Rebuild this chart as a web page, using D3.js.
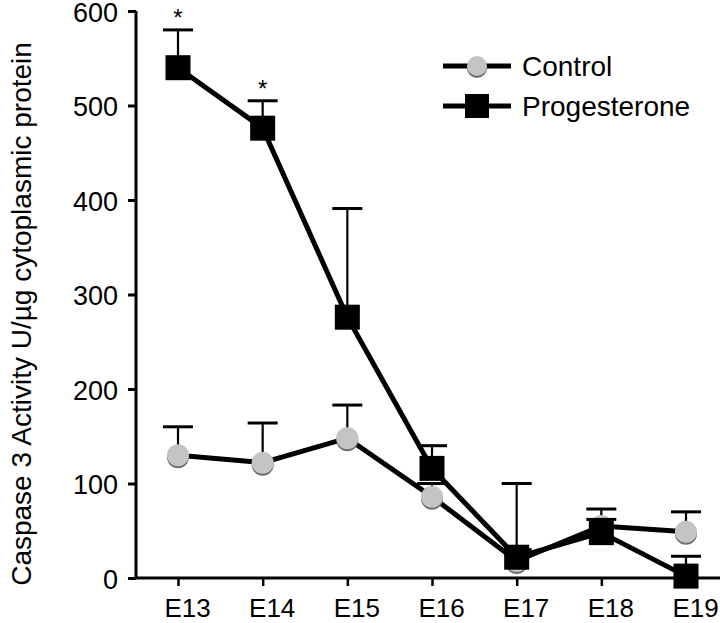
<!DOCTYPE html>
<html><head><meta charset="utf-8">
<script src="https://cdn.jsdelivr.net/npm/d3@7"></script>
<style>body{margin:0;background:#fff}svg{display:block}text{font-family:"Liberation Sans",Arial,sans-serif}</style>
</head><body><svg id="c" width="720" height="623"></svg>
<script>
const categories = ["E13","E14","E15","E16","E17","E18","E19"];
const controlMean = [130,122,148,86,18,55,49];
const controlErr  = [160,164,183,100,30,73,70];
const progMean    = [540,476,276,116,22,48,2];
const progErr     = [580,505,391,140,100,62,23];
const significant = [true,true,false,false,false,false,false];
const yTicks = [0,100,200,300,400,500,600];

const svg = d3.select("#c");
const x = d3.scalePoint().domain(categories).range([178,686]);
const y = d3.scaleLinear().domain([0,600]).range([578,11]);

// axes
const yAx = svg.append("g").attr("transform","translate(136,0)")
  .call(d3.axisLeft(y).tickValues(yTicks).tickSize(8).tickPadding(10).tickSizeOuter(0));
yAx.select(".domain").attr("stroke","#000").attr("stroke-width",3).attr("d","M0,11V578");
yAx.selectAll(".tick line").attr("stroke-width",3);
yAx.selectAll(".tick text").attr("font-size",27).attr("fill","#000").attr("dy","0.38em");

const xAx = svg.append("g").attr("transform","translate(0,578)")
  .call(d3.axisBottom(x).tickSize(8).tickPadding(13).tickSizeOuter(0));
xAx.select(".domain").attr("stroke","#000").attr("stroke-width",3).attr("d","M136,0H720");
xAx.selectAll(".tick line").attr("stroke-width",2.5);
xAx.selectAll(".tick text").attr("font-size",26).attr("fill","#000").attr("dx",9);

svg.append("text").attr("transform","translate(31,314) rotate(-90)")
  .attr("text-anchor","middle").attr("font-size",28)
  .text("Caspase 3 Activity U/\u00b5g cytoplasmic protein");

const line = d3.line().x((d,i)=>x(categories[i])).y(d=>y(d));

function errBars(means, errs){
  const g = svg.append("g").attr("stroke","#000").attr("stroke-width",2.2);
  categories.forEach((c,i)=>{
    g.append("line").attr("x1",x(c)).attr("x2",x(c)).attr("y1",y(means[i])).attr("y2",y(errs[i]));
    g.append("line").attr("x1",x(c)-15).attr("x2",x(c)+15).attr("y1",y(errs[i])).attr("y2",y(errs[i])).attr("stroke-width",3);
  });
}

// control
errBars(controlMean, controlErr);
svg.append("path").datum(controlMean).attr("d",line).attr("fill","none").attr("stroke","#000").attr("stroke-width",5);
const cg = svg.append("g");
controlMean.forEach((v,i)=>{
  cg.append("circle").attr("cx",x(categories[i])).attr("cy",y(v)+2).attr("r",11).attr("fill","#6e6e6e");
  cg.append("circle").attr("cx",x(categories[i])).attr("cy",y(v)).attr("r",11).attr("fill","#c4c4c4");
});

// progesterone
errBars(progMean, progErr);
svg.append("path").datum(progMean).attr("d",line).attr("fill","none").attr("stroke","#000").attr("stroke-width",5);
svg.append("g").selectAll("rect").data(progMean).join("rect")
  .attr("x",(d,i)=>x(categories[i])-12.5).attr("y",d=>y(d)-12.5)
  .attr("width",25).attr("height",25).attr("fill","#000");

// significance stars
svg.append("g").selectAll("text").data(categories.filter((c,i)=>significant[i])).join("text")
  .attr("x",d=>x(d)).attr("y",d=>y(progErr[categories.indexOf(d)])-4)
  .attr("text-anchor","middle").attr("font-size",24).text("*");

// legend
const lg = svg.append("g");
lg.append("line").attr("x1",443).attr("x2",511).attr("y1",66).attr("y2",66).attr("stroke","#000").attr("stroke-width",5);
lg.append("circle").attr("cx",477).attr("cy",68).attr("r",10).attr("fill","#6e6e6e");
lg.append("circle").attr("cx",477).attr("cy",66).attr("r",10).attr("fill","#c4c4c4");
lg.append("text").attr("x",522).attr("y",76).attr("font-size",28).text("Control");
lg.append("line").attr("x1",443).attr("x2",511).attr("y1",106).attr("y2",106).attr("stroke","#000").attr("stroke-width",5);
lg.append("rect").attr("x",465).attr("y",94).attr("width",24).attr("height",24).attr("fill","#000");
lg.append("text").attr("x",522).attr("y",116).attr("font-size",28).text("Progesterone");
</script></body></html>
